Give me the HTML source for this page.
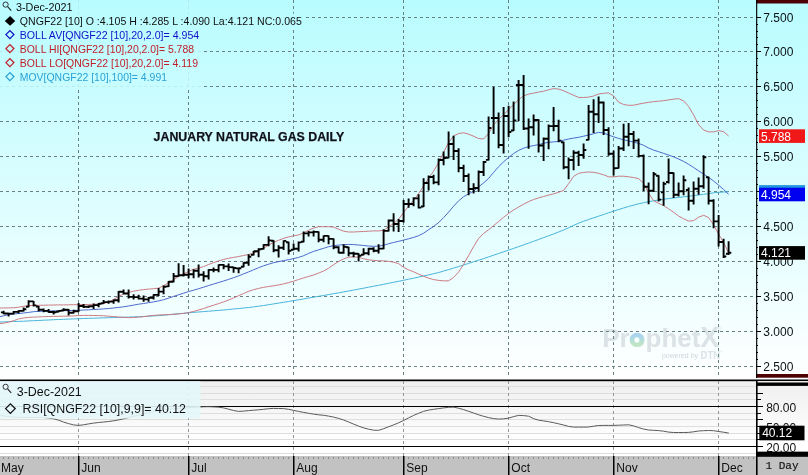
<!DOCTYPE html><html><head><meta charset="utf-8"><title>January Natural Gas Daily</title>
<style>html,body{margin:0;padding:0;background:#fff;}svg{display:block;}text{font-family:"Liberation Sans",sans-serif;}</style></head><body>
<svg width="808" height="475" viewBox="0 0 808 475">
<defs>
<linearGradient id="g1" gradientUnits="userSpaceOnUse" x1="0" y1="0" x2="0" y2="379"><stop offset="0" stop-color="#b8fcff"/><stop offset="1" stop-color="#ffffff"/></linearGradient>
<linearGradient id="g2" x1="0" y1="0" x2="0" y2="1"><stop offset="0" stop-color="#efefef"/><stop offset="0.85" stop-color="#ffffff"/></linearGradient>
<linearGradient id="go" x1="0" y1="0" x2="0" y2="1"><stop offset="0.1" stop-color="#a9d4ee"/><stop offset="0.9" stop-color="#bfe5c6"/></linearGradient>
<clipPath id="cm"><rect x="0" y="0" width="756" height="379"/></clipPath>
</defs>
<rect x="0" y="0" width="808" height="379" fill="url(#g1)"/>
<rect x="0" y="381" width="808" height="75" fill="url(#g2)"/>
<g fill="#dbe3e6" font-weight="bold">
<text x="602.2" y="346.9" font-size="26" textLength="98.3" lengthAdjust="spacingAndGlyphs">Prophet</text>
<text x="700.2" y="346.9" font-size="29" textLength="19" lengthAdjust="spacingAndGlyphs">X</text>
<text x="718" y="331" font-size="5" font-weight="normal">®</text>
<text x="700.6" y="358.8" font-size="10.6" textLength="19.6" lengthAdjust="spacingAndGlyphs">DTN</text>
<text x="719.5" y="353" font-size="4" font-weight="normal">®</text>
</g>
<text x="662" y="358.3" font-size="7.5" fill="#cfd6d9" textLength="36" lengthAdjust="spacingAndGlyphs">powered by</text>
<circle cx="636.8" cy="339.9" r="4.9" fill="none" stroke="url(#go)" stroke-width="4.6"/>
<g stroke="#688284" stroke-width="1" stroke-dasharray="3 3" fill="none" shape-rendering="crispEdges">
<line x1="0" y1="17.5" x2="756" y2="17.5"/>
<line x1="0" y1="51.5" x2="756" y2="51.5"/>
<line x1="0" y1="86.5" x2="756" y2="86.5"/>
<line x1="0" y1="121.5" x2="756" y2="121.5"/>
<line x1="0" y1="156.5" x2="756" y2="156.5"/>
<line x1="0" y1="191.5" x2="756" y2="191.5"/>
<line x1="0" y1="226.5" x2="756" y2="226.5"/>
<line x1="0" y1="261.5" x2="756" y2="261.5"/>
<line x1="0" y1="296.5" x2="756" y2="296.5"/>
<line x1="0" y1="331.5" x2="756" y2="331.5"/>
<line x1="0" y1="366.5" x2="756" y2="366.5"/>
<line x1="78.5" y1="0" x2="78.5" y2="379"/>
<line x1="188.5" y1="0" x2="188.5" y2="379"/>
<line x1="293.5" y1="0" x2="293.5" y2="379"/>
<line x1="403.5" y1="0" x2="403.5" y2="379"/>
<line x1="508.5" y1="0" x2="508.5" y2="379"/>
<line x1="613.5" y1="0" x2="613.5" y2="379"/>
<line x1="718.5" y1="0" x2="718.5" y2="379"/>
</g>
<g fill="none" stroke-linejoin="round" clip-path="url(#cm)">
<path d="M0.0,322.0 L3.6,321.9 L8.6,321.7 L13.6,321.5 L18.6,321.4 L23.6,321.2 L28.6,320.9 L33.6,320.7 L38.6,320.5 L43.6,320.2 L48.6,320.0 L53.6,319.7 L58.6,319.5 L63.6,319.3 L68.6,319.1 L73.6,318.9 L78.6,318.7 L83.6,318.5 L88.6,318.3 L93.6,318.2 L98.6,318.0 L103.6,317.9 L108.6,317.7 L113.6,317.6 L118.6,317.4 L123.6,317.2 L128.6,317.1 L133.6,316.9 L138.6,316.7 L143.6,316.5 L148.6,316.2 L153.6,315.9 L158.6,315.6 L163.6,315.2 L168.6,314.7 L173.6,314.2 L178.6,313.7 L183.6,313.3 L188.6,312.8 L193.6,312.4 L198.6,312.0 L203.6,311.6 L208.6,311.2 L213.6,310.8 L218.6,310.4 L223.6,310.0 L228.6,309.5 L233.6,309.0 L238.6,308.5 L243.6,308.0 L248.6,307.5 L253.6,306.9 L258.6,306.2 L263.6,305.5 L268.6,304.7 L273.6,303.9 L278.6,303.1 L283.6,302.3 L288.6,301.5 L293.6,300.6 L298.6,299.8 L303.6,298.9 L308.6,298.0 L313.6,297.2 L318.6,296.3 L323.6,295.5 L328.6,294.6 L333.6,293.7 L338.6,292.9 L343.6,291.9 L348.6,291.0 L353.6,290.1 L358.6,289.1 L363.6,288.2 L368.6,287.2 L373.6,286.2 L378.6,285.3 L383.6,284.3 L388.6,283.3 L393.6,282.3 L398.6,281.3 L403.6,280.3 L408.6,279.2 L413.6,278.2 L418.6,277.1 L423.6,276.0 L428.6,274.9 L433.6,273.7 L438.6,272.5 L443.6,271.1 L448.6,269.6 L453.6,268.1 L458.6,266.6 L463.6,265.0 L468.6,263.4 L473.6,261.8 L478.6,260.2 L483.6,258.6 L488.6,256.9 L493.6,255.2 L498.6,253.5 L503.6,251.8 L508.6,250.1 L513.6,248.4 L518.6,246.6 L523.6,244.9 L528.6,243.1 L533.6,241.3 L538.6,239.5 L543.6,237.6 L548.6,235.8 L553.6,233.9 L558.6,232.0 L563.6,230.0 L568.6,227.8 L573.6,225.4 L578.6,223.2 L583.6,221.2 L588.6,219.5 L593.6,217.8 L598.6,216.2 L603.6,214.5 L608.6,212.8 L613.6,211.1 L618.6,209.5 L623.6,208.0 L628.6,206.5 L633.6,205.1 L638.6,203.8 L643.6,202.7 L648.6,201.7 L653.6,200.8 L658.6,200.0 L663.6,199.2 L668.6,198.6 L673.6,198.0 L678.6,197.4 L683.6,196.8 L688.6,196.2 L693.6,195.6 L698.6,195.0 L703.6,194.3 L708.6,193.6 L713.6,192.8 L718.6,192.3 L723.6,192.0 L728.6,191.8" stroke="#48b4dc" stroke-width="1"/>
<path d="M0.0,308.0 L3.6,308.0 L8.6,307.9 L13.6,307.8 L18.6,307.2 L23.6,306.3 L28.6,305.6 L33.6,305.4 L38.6,305.3 L43.6,305.2 L48.6,305.1 L53.6,305.0 L58.6,304.9 L63.6,304.9 L68.6,304.8 L73.6,304.7 L78.6,304.7 L83.6,304.6 L88.6,304.5 L93.6,304.3 L98.6,304.1 L103.6,303.5 L108.6,302.0 L113.6,299.5 L118.6,296.4 L123.6,293.9 L128.6,292.4 L133.6,291.2 L138.6,290.3 L143.6,289.6 L148.6,289.1 L153.6,288.7 L158.6,288.1 L163.6,285.7 L168.6,282.7 L173.6,279.7 L178.6,276.6 L183.6,273.8 L188.6,271.4 L193.6,269.2 L198.6,268.1 L203.6,266.6 L208.6,264.5 L213.6,262.6 L218.6,260.9 L223.6,259.4 L228.6,258.3 L233.6,257.4 L238.6,256.5 L243.6,255.5 L248.6,254.5 L253.6,252.9 L258.6,250.7 L263.6,248.1 L268.6,245.2 L273.6,242.4 L278.6,240.3 L283.6,238.4 L288.6,236.9 L293.6,235.9 L298.6,234.9 L303.6,232.8 L308.6,230.2 L313.6,228.0 L318.6,226.7 L323.6,226.7 L328.6,226.7 L333.6,227.1 L338.6,229.2 L343.6,231.2 L348.6,232.0 L353.6,232.0 L358.6,231.7 L363.6,231.5 L368.6,231.2 L373.6,230.9 L378.6,230.9 L383.6,230.4 L388.6,226.7 L393.6,223.5 L398.6,219.1 L403.6,212.6 L408.6,206.1 L413.6,200.3 L418.6,193.6 L423.6,186.0 L428.6,178.4 L433.6,171.1 L438.6,162.6 L443.6,152.4 L448.6,142.5 L453.6,135.9 L458.6,133.5 L463.6,132.8 L468.6,134.2 L473.6,136.2 L478.6,138.5 L483.6,139.0 L488.6,133.4 L493.6,125.0 L498.6,119.3 L503.6,114.7 L508.6,109.6 L513.6,104.6 L518.6,99.8 L523.6,95.8 L528.6,94.2 L533.6,93.1 L538.6,92.1 L543.6,91.2 L548.6,89.8 L553.6,88.6 L558.6,89.1 L563.6,90.7 L568.6,93.0 L573.6,95.3 L578.6,97.4 L583.6,97.5 L588.6,97.1 L593.6,96.0 L598.6,94.0 L603.6,93.3 L608.6,92.9 L613.6,95.9 L618.6,102.2 L623.6,104.5 L628.6,105.3 L633.6,105.2 L638.6,104.1 L643.6,103.2 L648.6,102.3 L653.6,101.7 L658.6,101.2 L663.6,100.7 L668.6,99.9 L673.6,99.2 L678.6,98.6 L683.6,100.9 L688.6,106.5 L693.6,114.9 L698.6,124.7 L703.6,130.0 L708.6,131.9 L713.6,131.9 L718.6,130.6 L723.6,131.7 L728.6,136.0" stroke="#c9747a" stroke-width="0.95"/>
<path d="M0.0,323.7 L3.6,323.2 L8.6,322.1 L13.6,320.7 L18.6,318.9 L23.6,318.0 L28.6,317.4 L33.6,317.1 L38.6,316.9 L43.6,316.7 L48.6,316.5 L53.6,316.4 L58.6,316.3 L63.6,316.2 L68.6,316.1 L73.6,315.9 L78.6,315.6 L83.6,315.4 L88.6,315.4 L93.6,315.5 L98.6,315.6 L103.6,315.8 L108.6,316.2 L113.6,316.6 L118.6,317.0 L123.6,317.4 L128.6,317.6 L133.6,317.5 L138.6,317.1 L143.6,316.7 L148.6,316.0 L153.6,315.4 L158.6,315.0 L163.6,314.8 L168.6,314.6 L173.6,314.3 L178.6,313.9 L183.6,313.4 L188.6,312.6 L193.6,311.4 L198.6,310.0 L203.6,308.5 L208.6,306.8 L213.6,305.2 L218.6,303.6 L223.6,301.9 L228.6,300.0 L233.6,297.9 L238.6,295.7 L243.6,293.5 L248.6,291.3 L253.6,289.7 L258.6,288.4 L263.6,287.3 L268.6,286.5 L273.6,285.8 L278.6,284.9 L283.6,283.9 L288.6,282.6 L293.6,281.2 L298.6,279.5 L303.6,277.9 L308.6,276.5 L313.6,275.0 L318.6,273.1 L323.6,271.0 L328.6,268.3 L333.6,264.6 L338.6,261.5 L343.6,258.9 L348.6,257.2 L353.6,256.8 L358.6,257.3 L363.6,258.8 L368.6,259.8 L373.6,260.4 L378.6,260.8 L383.6,260.9 L388.6,261.3 L393.6,262.2 L398.6,263.6 L403.6,267.4 L408.6,269.8 L413.6,271.8 L418.6,274.1 L423.6,276.3 L428.6,278.1 L433.6,279.6 L438.6,280.4 L443.6,280.8 L448.6,280.9 L453.6,277.4 L458.6,272.1 L463.6,264.5 L468.6,255.5 L473.6,246.6 L478.6,238.4 L483.6,233.5 L488.6,229.7 L493.6,225.6 L498.6,221.5 L503.6,217.3 L508.6,213.4 L513.6,210.0 L518.6,207.0 L523.6,204.2 L528.6,201.6 L533.6,199.5 L538.6,197.9 L543.6,196.5 L548.6,195.1 L553.6,193.8 L558.6,192.3 L563.6,190.4 L568.6,183.7 L573.6,176.4 L578.6,173.3 L583.6,172.4 L588.6,172.0 L593.6,172.3 L598.6,173.3 L603.6,174.8 L608.6,176.8 L613.6,176.9 L618.6,176.2 L623.6,176.2 L628.6,176.8 L633.6,177.5 L638.6,178.6 L643.6,183.2 L648.6,193.1 L653.6,200.7 L658.6,203.2 L663.6,205.6 L668.6,208.8 L673.6,212.3 L678.6,216.0 L683.6,218.8 L688.6,221.1 L693.6,220.6 L698.6,217.2 L703.6,215.3 L708.6,217.5 L713.6,224.9 L718.6,234.1 L723.6,242.4 L728.6,252.9" stroke="#c9747a" stroke-width="0.95"/>
<path d="M0.0,316.7 L3.6,315.8 L8.6,314.7 L13.6,314.0 L18.6,313.5 L23.6,313.0 L28.6,312.4 L33.6,311.7 L38.6,311.3 L43.6,311.2 L48.6,311.0 L53.6,310.9 L58.6,310.8 L63.6,310.7 L68.6,310.6 L73.6,310.4 L78.6,310.3 L83.6,310.0 L88.6,309.8 L93.6,309.5 L98.6,309.3 L103.6,308.9 L108.6,308.5 L113.6,308.0 L118.6,307.4 L123.6,306.8 L128.6,306.0 L133.6,305.1 L138.6,304.2 L143.6,303.5 L148.6,302.7 L153.6,301.9 L158.6,300.9 L163.6,299.7 L168.6,298.2 L173.6,296.4 L178.6,294.8 L183.6,293.2 L188.6,291.6 L193.6,290.2 L198.6,288.7 L203.6,287.2 L208.6,285.6 L213.6,284.0 L218.6,282.5 L223.6,281.0 L228.6,279.4 L233.6,277.7 L238.6,275.9 L243.6,273.9 L248.6,271.9 L253.6,269.8 L258.6,267.7 L263.6,265.8 L268.6,264.2 L273.6,262.7 L278.6,261.6 L283.6,260.6 L288.6,259.7 L293.6,258.6 L298.6,257.4 L303.6,255.7 L308.6,253.4 L313.6,251.4 L318.6,249.8 L323.6,248.3 L328.6,246.7 L333.6,245.7 L338.6,245.1 L343.6,244.7 L348.6,244.4 L353.6,244.6 L358.6,245.0 L363.6,245.5 L368.6,246.0 L373.6,246.3 L378.6,246.2 L383.6,245.3 L388.6,243.7 L393.6,242.5 L398.6,241.3 L403.6,240.1 L408.6,238.8 L413.6,237.4 L418.6,235.7 L423.6,233.2 L428.6,229.7 L433.6,226.5 L438.6,222.6 L443.6,217.6 L448.6,212.1 L453.6,206.2 L458.6,200.9 L463.6,196.7 L468.6,193.9 L473.6,191.1 L478.6,186.9 L483.6,182.9 L488.6,178.4 L493.6,172.4 L498.6,166.7 L503.6,161.8 L508.6,157.5 L513.6,153.5 L518.6,150.4 L523.6,148.2 L528.6,146.6 L533.6,145.6 L538.6,144.6 L543.6,143.3 L548.6,142.3 L553.6,141.9 L558.6,141.4 L563.6,140.2 L568.6,139.0 L573.6,138.1 L578.6,137.3 L583.6,136.2 L588.6,135.0 L593.6,133.7 L598.6,132.4 L603.6,132.9 L608.6,135.0 L613.6,136.8 L618.6,138.4 L623.6,139.8 L628.6,140.9 L633.6,142.1 L638.6,143.4 L643.6,145.3 L648.6,148.0 L653.6,150.1 L658.6,151.7 L663.6,153.4 L668.6,155.0 L673.6,156.9 L678.6,159.0 L683.6,161.4 L688.6,164.3 L693.6,167.5 L698.6,170.8 L703.6,174.1 L708.6,177.4 L713.6,181.0 L718.6,185.1 L723.6,189.5 L728.6,194.4" stroke="#4560c8" stroke-width="0.95"/>
</g>
<path d="M3.6,310.7V314.2M0.9,312.4H3.6M3.6,313.5H6.3M8.6,312.9V316.5M5.9,313.5H8.6M8.6,313.6H11.3M13.6,311.0V314.4M10.9,313.6H13.6M13.6,311.9H16.3M18.6,310.2V313.6M15.9,311.9H18.6M18.6,310.9H21.3M23.6,307.6V311.4M20.9,310.9H23.6M23.6,309.3H26.3M28.6,300.3V307.2M25.9,306.7H28.6M28.6,301.4H31.3M33.6,300.9V306.6M30.9,301.4H33.6M33.6,305.4H36.3M38.6,306.0V311.4M35.9,306.5H38.6M38.6,309.8H41.3M43.6,308.5V312.3M40.9,309.8H43.6M43.6,310.9H46.3M48.6,309.1V312.7M45.9,310.9H48.6M48.6,312.0H51.3M53.6,310.7V314.4M50.9,312.0H53.6M53.6,312.3H56.3M58.6,310.2V312.3M55.9,311.8H58.6M58.6,310.9H61.3M63.6,308.3V311.0M60.9,310.5H63.6M63.6,309.8H66.3M68.6,309.1V315.5M65.9,309.8H68.6M68.6,312.8H71.3M73.6,309.8V313.6M70.9,312.8H73.6M73.6,311.3H76.3M78.6,303.1V311.7M75.9,311.2H78.6M78.6,306.0H81.3M83.6,304.1V307.9M80.9,306.0H83.6M83.6,306.8H86.3M88.6,305.4V308.1M85.9,306.8H88.6M88.6,306.3H91.3M93.6,303.5V309.1M90.9,306.3H93.6M93.6,305.1H96.3M98.6,303.1V307.2M95.9,305.1H98.6M98.6,303.8H101.3M103.6,299.9V303.7M100.9,303.2H103.6M103.6,302.1H106.3M108.6,300.5V303.7M105.9,302.1H108.6M108.6,301.6H111.3M113.6,299.5V303.7M110.9,301.6H113.6M113.6,300.2H116.3M118.6,291.0V302.4M115.9,300.2H118.6M118.6,291.8H121.3M123.6,289.4V294.2M120.9,291.8H123.6M123.6,293.5H126.3M128.6,289.4V298.6M125.9,293.5H128.6M128.6,296.9H131.3M133.6,294.2V299.5M130.9,296.9H133.6M133.6,297.1H136.3M138.6,294.8V299.5M135.9,297.1H138.6M138.6,298.6H141.3M143.6,295.5V301.8M140.9,298.6H143.6M143.6,299.4H146.3M148.6,297.0V301.8M145.9,299.4H148.6M148.6,297.7H151.3M153.6,294.2V299.5M150.9,297.7H153.6M153.6,294.9H156.3M158.6,288.1V296.1M155.9,294.9H158.6M158.6,291.6H161.3M163.6,285.4V294.2M160.9,291.6H163.6M163.6,286.7H166.3M168.6,280.9V286.9M165.9,286.4H168.6M168.6,281.7H171.3M173.6,273.0V282.2M170.9,281.7H173.6M173.6,276.3H176.3M178.6,263.3V276.6M175.9,276.1H178.6M178.6,275.3H181.3M183.6,265.0V276.4M180.9,275.3H183.6M183.6,274.8H186.3M188.6,268.4V278.3M185.9,274.8H188.6M188.6,274.3H191.3M193.6,269.2V278.3M190.9,274.3H193.6M193.6,270.8H196.3M198.6,264.4V277.5M195.9,270.8H198.6M198.6,274.8H201.3M203.6,271.2V281.5M200.9,274.8H203.6M203.6,276.3H206.3M208.6,269.3V279.5M205.9,276.3H208.6M208.6,269.9H211.3M213.6,267.4V272.3M210.9,269.9H213.6M213.6,269.9H216.3M218.6,264.6V272.3M215.9,269.9H218.6M218.6,264.9H221.3M223.6,264.1V269.3M220.9,264.9H223.6M223.6,266.4H226.3M228.6,263.5V271.1M225.9,266.4H228.6M228.6,267.1H231.3M233.6,266.7V272.7M230.9,267.2H233.6M233.6,268.0H236.3M238.6,267.9V273.2M235.9,268.4H238.6M238.6,268.2H241.3M243.6,262.2V267.3M240.9,266.8H243.6M243.6,262.7H246.3M248.6,254.3V265.8M245.9,262.7H248.6M248.6,256.7H251.3M253.6,251.0V255.4M250.9,254.9H253.6M253.6,251.3H256.3M258.6,248.3V257.3M255.9,251.3H258.6M258.6,249.3H261.3M263.6,244.2V249.4M260.9,248.9H263.6M263.6,244.9H266.3M268.6,236.3V246.3M265.9,244.9H268.6M268.6,240.4H271.3M273.6,240.3V252.2M270.9,240.8H273.6M273.6,250.3H276.3M278.6,245.3V257.4M275.9,250.3H278.6M278.6,247.8H281.3M283.6,240.5V250.0M280.9,247.8H283.6M283.6,240.9H286.3M288.6,241.7V254.5M285.9,242.2H288.6M288.6,250.8H291.3M293.6,243.6V250.3M290.9,249.8H293.6M293.6,248.8H296.3M298.6,241.4V251.4M295.9,248.8H298.6M298.6,242.4H301.3M303.6,231.4V242.3M300.9,241.8H303.6M303.6,233.4H306.3M308.6,230.9V236.4M305.9,233.4H308.6M308.6,232.4H311.3M313.6,230.4V236.4M310.9,232.4H313.6M313.6,231.9H316.3M318.6,231.4V242.3M315.9,231.9H318.6M318.6,239.8H321.3M323.6,235.4V242.3M320.9,239.8H323.6M323.6,235.9H326.3M328.6,235.4V244.3M325.9,235.9H328.6M328.6,238.9H331.3M333.6,238.4V249.2M330.9,238.9H333.6M333.6,247.3H336.3M338.6,246.3V253.2M335.9,247.3H338.6M338.6,252.7H341.3M343.6,244.3V253.7M340.9,252.7H343.6M343.6,246.8H346.3M348.6,246.8V256.2M345.9,247.3H348.6M348.6,253.2H351.3M353.6,251.7V257.2M350.9,253.2H353.6M353.6,253.7H356.3M358.6,253.2V261.6M355.9,253.7H358.6M358.6,255.7H361.3M363.6,248.3V255.2M360.9,254.7H363.6M363.6,253.2H366.3M368.6,247.8V255.2M365.9,253.2H368.6M368.6,248.8H371.3M373.6,247.3V252.2M370.9,248.8H373.6M373.6,250.7H376.3M378.6,244.3V253.4M375.9,250.7H378.6M378.6,248.6H381.3M383.6,229.2V249.2M380.9,248.6H383.6M383.6,230.9H386.3M388.6,219.5V231.5M385.9,230.9H388.6M388.6,220.5H391.3M393.6,213.2V231.5M390.9,220.5H393.6M393.6,224.0H396.3M398.6,218.9V232.1M395.9,224.0H398.6M398.6,221.0H401.3M403.6,200.0V222.5M400.9,221.0H403.6M403.6,204.0H406.3M408.6,198.5V207.8M405.9,204.0H408.6M408.6,204.0H411.3M413.6,197.3V206.3M410.9,204.0H413.6M413.6,198.4H416.3M418.6,194.3V208.4M415.9,198.4H418.6M418.6,207.6H421.3M423.6,178.3V207.0M420.9,206.5H423.6M423.6,183.0H426.3M428.6,175.4V190.5M425.9,183.0H428.6M428.6,177.0H431.3M433.6,174.7V184.2M430.9,177.0H433.6M433.6,182.4H436.3M438.6,158.5V185.3M435.9,182.4H438.6M438.6,160.0H441.3M443.6,151.6V165.3M440.9,160.0H443.6M443.6,158.0H446.3M448.6,131.5V158.2M445.9,157.7H448.6M448.6,144.0H451.3M453.6,135.8V160.0M450.9,144.0H453.6M453.6,151.0H456.3M458.6,148.2V172.3M455.9,151.0H458.6M458.6,168.0H461.3M463.6,164.7V182.1M460.9,168.0H463.6M463.6,176.0H466.3M468.6,173.5V195.3M465.9,176.0H468.6M468.6,189.0H471.3M473.6,183.2V193.4M470.9,189.0H473.6M473.6,188.0H476.3M478.6,170.5V192.1M475.9,188.0H478.6M478.6,172.0H481.3M483.6,161.0V176.0M480.9,172.0H483.6M483.6,162.0H486.3M488.6,116.4V160.4M485.9,159.9H488.6M488.6,128.0H491.3M493.6,86.8V134.0M490.9,118.0H493.6M493.6,118.0H496.3M498.6,112.4V148.3M495.9,118.0H498.6M498.6,145.0H501.3M503.6,107.0V153.5M500.9,145.0H503.6M503.6,116.0H506.3M508.6,105.8V137.2M505.9,116.0H508.6M508.6,132.0H511.3M513.6,101.4V131.0M510.9,130.5H513.6M513.6,120.5H516.3M518.6,80.0V121.0M515.9,85.0H518.6M518.6,85.0H521.3M523.6,75.1V130.0M520.9,85.0H523.6M523.6,128.5H526.3M528.6,118.4V148.8M525.9,128.5H528.6M528.6,127.3H531.3M533.6,114.5V135.5M530.9,127.3H533.6M533.6,120.0H536.3M538.6,119.3V152.4M535.9,120.0H538.6M538.6,145.5H541.3M543.6,137.4V161.0M540.9,145.5H543.6M543.6,138.7H546.3M548.6,124.5V149.2M545.9,138.7H548.6M548.6,126.1H551.3M553.6,107.1V131.3M550.9,126.1H553.6M553.6,126.0H556.3M558.6,119.7V142.3M555.9,126.0H558.6M558.6,140.6H561.3M563.6,141.8V169.2M560.9,142.3H563.6M563.6,167.3H566.3M568.6,157.6V179.3M565.9,167.3H568.6M568.6,160.0H571.3M573.6,150.3V170.3M570.9,160.0H573.6M573.6,152.7H576.3M578.6,150.7V166.0M575.9,152.7H578.6M578.6,155.0H581.3M583.6,143.5V158.7M580.9,155.0H583.6M583.6,150.0H586.3M588.6,105.0V140.2M585.9,139.9H588.6M588.6,111.7H591.3M593.6,99.3V133.0M590.9,111.7H593.6M593.6,114.3H596.3M598.6,96.6V122.9M595.9,114.3H598.6M598.6,102.5H601.3M603.6,101.4V135.0M600.9,102.5H603.6M603.6,130.0H606.3M608.6,127.2V155.7M605.9,130.0H608.6M608.6,153.8H611.3M613.6,150.6V175.6M610.9,153.8H613.6M613.6,168.3H616.3M618.6,145.9V168.6M615.9,168.1H618.6M618.6,148.5H621.3M623.6,123.7V151.0M620.9,148.5H623.6M623.6,136.7H626.3M628.6,123.0V146.2M625.9,136.7H628.6M628.6,134.0H631.3M633.6,131.0V149.0M630.9,134.0H633.6M633.6,140.6H636.3M638.6,138.4V157.4M635.9,140.6H638.6M638.6,155.9H641.3M643.6,154.6V191.0M640.9,155.9H643.6M643.6,186.7H646.3M648.6,182.6V204.3M645.9,186.7H648.6M648.6,190.7H651.3M653.6,172.1V192.1M650.9,190.7H653.6M653.6,174.2H656.3M658.6,175.3V201.6M655.9,175.8H658.6M658.6,199.6H661.3M663.6,181.8V205.8M660.9,192.4H663.6M663.6,183.9H666.3M668.6,158.6V183.5M665.9,182.0H668.6M668.6,173.0H671.3M673.6,172.5V198.0M670.9,173.0H673.6M673.6,194.8H676.3M678.6,182.4V196.4M675.9,194.8H678.6M678.6,191.2H681.3M683.6,175.5V195.3M680.9,191.2H683.6M683.6,180.3H686.3M688.6,187.4V210.5M685.9,190.0H688.6M688.6,200.8H691.3M693.6,181.6V204.5M690.9,200.8H693.6M693.6,188.7H696.3M698.6,177.4V194.7M695.9,188.7H698.6M698.6,186.3H701.3M703.6,155.3V188.7M700.9,186.3H703.6M703.6,157.3H706.3M708.6,176.8V204.5M705.9,177.3H708.6M708.6,200.8H711.3M713.6,199.2V228.2M710.9,200.8H713.6M713.6,221.4H716.3M718.6,215.0V246.6M715.9,221.4H718.6M718.6,242.0H721.3M723.6,238.7V257.9M720.9,242.0H723.6M723.6,256.5H726.3M728.6,241.3V255.0M725.9,253.8H728.6M728.6,252.7H731.3" stroke="#000" stroke-width="1.9" fill="none" clip-path="url(#cm)"/>
<text x="153.6" y="140.8" font-size="13.4" font-weight="bold" fill="#101018" stroke="#101018" stroke-width="0.25" textLength="190.6" lengthAdjust="spacingAndGlyphs">JANUARY NATURAL GAS DAILY</text>
<rect x="0" y="0" width="202" height="87.5" fill="url(#g1)" opacity="0.86"/>
<rect x="0" y="13.6" width="303.5" height="14" fill="url(#g1)" opacity="0.92"/>
<text x="16" y="10.8" font-size="11" fill="#101010" textLength="56.5" lengthAdjust="spacingAndGlyphs">3-Dec-2021</text>
<g fill="none" stroke="#202020" stroke-width="0.9"><circle cx="5.6" cy="4.6" r="2.6"/><path d="M7.6,6.7L11.2,10.6" stroke-width="1.15"/></g>
<text x="19.8" y="24.6" font-size="11" fill="#101010" textLength="282" lengthAdjust="spacingAndGlyphs">QNGF22 [10] O :4.105 H :4.285 L :4.090 La:4.121 NC:0.065</text>
<path d="M4.800000000000001,21.0L10.1,16.0L15.2,21.0L10.1,25.8Z" fill="#000"/>
<text x="19.8" y="38.6" font-size="11" fill="#1010c8" textLength="179.4" lengthAdjust="spacingAndGlyphs">BOLL AV[QNGF22 [10],20,2.0]= 4.954</text>
<path d="M5.9,34.6L9.9,30.6L13.9,34.6L9.9,38.6Z" fill="none" stroke="#1010c8" stroke-width="1.3"/>
<text x="19.8" y="52.6" font-size="11" fill="#c02028" textLength="174.2" lengthAdjust="spacingAndGlyphs">BOLL HI[QNGF22 [10],20,2.0]= 5.788</text>
<path d="M5.9,48.6L9.9,44.6L13.9,48.6L9.9,52.6Z" fill="none" stroke="#c02028" stroke-width="1.3"/>
<text x="19.8" y="66.6" font-size="11" fill="#c02028" textLength="178.2" lengthAdjust="spacingAndGlyphs">BOLL LO[QNGF22 [10],20,2.0]= 4.119</text>
<path d="M5.9,62.6L9.9,58.6L13.9,62.6L9.9,66.6Z" fill="none" stroke="#c02028" stroke-width="1.3"/>
<text x="19.8" y="80.6" font-size="11" fill="#2aa2d4" textLength="147.2" lengthAdjust="spacingAndGlyphs">MOV[QNGF22 [10],100]= 4.991</text>
<path d="M5.9,76.6L9.9,72.6L13.9,76.6L9.9,80.6Z" fill="none" stroke="#2aa2d4" stroke-width="1.3"/>
<rect x="756" y="0" width="52" height="3.5" fill="#4d0004"/>
<rect x="756" y="374" width="52" height="3.7" fill="#4d0004"/>
<rect x="756.1" y="0" width="1.15" height="379" fill="#000"/>
<path d="M756,366.5H758.2M756,366.5H760.8M756,359.5H758.2M756,352.5H758.2M756,345.5H758.2M756,338.5H758.2M756,331.5H760.8M756,324.5H758.2M756,317.5H758.2M756,310.5H758.2M756,303.5H758.2M756,296.5H760.8M756,289.5H758.2M756,282.5H758.2M756,275.5H758.2M756,268.5H758.2M756,261.5H760.8M756,254.5H758.2M756,247.5H758.2M756,240.5H758.2M756,233.5H758.2M756,226.5H760.8M756,219.5H758.2M756,212.5H758.2M756,205.5H758.2M756,198.5H758.2M756,191.5H760.8M756,184.5H758.2M756,177.5H758.2M756,170.5H758.2M756,163.5H758.2M756,156.5H760.8M756,149.5H758.2M756,142.5H758.2M756,135.5H758.2M756,128.5H758.2M756,121.5H760.8M756,114.5H758.2M756,107.5H758.2M756,100.5H758.2M756,93.5H758.2M756,86.5H760.8M756,79.5H758.2M756,72.5H758.2M756,65.5H758.2M756,58.5H758.2M756,51.5H760.8M756,44.5H758.2M756,37.5H758.2M756,31.5H758.2M756,24.5H758.2M756,17.5H760.8M756,17.5H758.2M756,17.5H758.2" stroke="#000" stroke-width="1" fill="none" shape-rendering="crispEdges"/>
<text x="763.3" y="21.8" font-size="12" fill="#0a1014">7.500</text>
<text x="763.3" y="55.8" font-size="12" fill="#0a1014">7.000</text>
<text x="763.3" y="90.6" font-size="12" fill="#0a1014">6.500</text>
<text x="763.3" y="125.6" font-size="12" fill="#0a1014">6.000</text>
<text x="763.3" y="160.8" font-size="12" fill="#0a1014">5.500</text>
<text x="763.3" y="195.7" font-size="12" fill="#0a1014">5.000</text>
<text x="763.3" y="230.8" font-size="12" fill="#0a1014">4.500</text>
<text x="763.3" y="265.8" font-size="12" fill="#0a1014">4.000</text>
<text x="763.3" y="300.7" font-size="12" fill="#0a1014">3.500</text>
<text x="763.3" y="335.6" font-size="12" fill="#0a1014">3.000</text>
<text x="763.3" y="370.7" font-size="12" fill="#0a1014">2.500</text>
<rect x="759" y="129.3" width="46" height="13.6" fill="#f01818"/>
<text x="761" y="140.5" font-size="12" fill="#fff">5.788</text>
<rect x="759" y="185.1" width="46" height="13.6" fill="#2098e0"/>
<rect x="759" y="187.7" width="46" height="13.6" fill="#0000f0"/>
<text x="761" y="198.9" font-size="12" fill="#fff">4.954</text>
<rect x="759" y="246.1" width="46" height="13.6" fill="#000000"/>
<text x="761" y="257.3" font-size="12" fill="#fff">4.121</text>
<rect x="0" y="378" width="808" height="1" fill="#fff"/>
<rect x="0" y="379" width="808" height="1" fill="#808080"/>
<rect x="0" y="380" width="808" height="1.2" fill="#000"/>
<g stroke="#dedede" stroke-width="1" shape-rendering="crispEdges">
<line x1="0" y1="453.5" x2="756" y2="453.5"/>
<line x1="0" y1="439.5" x2="756" y2="439.5"/>
<line x1="0" y1="433.5" x2="756" y2="433.5"/>
<line x1="0" y1="426.5" x2="756" y2="426.5"/>
<line x1="0" y1="419.5" x2="756" y2="419.5"/>
<line x1="0" y1="413.5" x2="756" y2="413.5"/>
<line x1="0" y1="399.5" x2="756" y2="399.5"/>
<line x1="0" y1="393.5" x2="756" y2="393.5"/>
<line x1="0" y1="386.5" x2="756" y2="386.5"/>
</g>
<g stroke="#8e989a" stroke-width="1" stroke-dasharray="3 3" shape-rendering="crispEdges">
<line x1="78.5" y1="381" x2="78.5" y2="456"/>
<line x1="188.5" y1="381" x2="188.5" y2="456"/>
<line x1="293.5" y1="381" x2="293.5" y2="456"/>
<line x1="403.5" y1="381" x2="403.5" y2="456"/>
<line x1="508.5" y1="381" x2="508.5" y2="456"/>
<line x1="613.5" y1="381" x2="613.5" y2="456"/>
<line x1="718.5" y1="381" x2="718.5" y2="456"/>
</g>
<g stroke="#000" stroke-width="1.3" shape-rendering="crispEdges"><line x1="0" y1="406.5" x2="756" y2="406.5"/><line x1="0" y1="446.5" x2="756" y2="446.5"/></g>
<path d="M0.0,415.4 L3.6,415.9 L8.6,416.6 L13.6,417.1 L18.6,417.4 L23.6,417.4 L28.6,417.4 L33.6,417.4 L38.6,417.4 L43.6,417.5 L48.6,418.1 L53.6,418.8 L58.6,420.2 L63.6,422.1 L68.6,423.6 L73.6,424.9 L78.6,425.4 L83.6,424.8 L88.6,423.9 L93.6,423.1 L98.6,422.5 L103.6,422.0 L108.6,421.5 L113.6,420.8 L118.6,419.9 L123.6,418.8 L128.6,417.6 L133.6,416.4 L138.6,415.1 L143.6,413.8 L148.6,412.5 L153.6,411.4 L158.6,410.6 L163.6,409.8 L168.6,409.2 L173.6,408.7 L178.6,408.3 L183.6,408.0 L188.6,407.7 L193.6,407.4 L198.6,407.1 L203.6,406.8 L208.6,406.7 L213.6,406.9 L218.6,407.2 L223.6,407.9 L228.6,409.2 L233.6,410.5 L238.6,411.4 L243.6,411.1 L248.6,410.6 L253.6,410.2 L258.6,409.8 L263.6,409.3 L268.6,408.7 L273.6,408.4 L278.6,408.5 L283.6,408.6 L288.6,409.3 L293.6,410.4 L298.6,411.4 L303.6,412.4 L308.6,413.3 L313.6,414.1 L318.6,414.8 L323.6,415.3 L328.6,416.1 L333.6,417.1 L338.6,418.4 L343.6,420.0 L348.6,422.0 L353.6,424.1 L358.6,426.1 L363.6,427.9 L368.6,429.2 L373.6,430.2 L378.6,430.3 L383.6,428.7 L388.6,426.8 L393.6,424.9 L398.6,422.8 L403.6,420.5 L408.6,417.9 L413.6,415.4 L418.6,413.3 L423.6,411.3 L428.6,410.1 L433.6,409.3 L438.6,408.6 L443.6,407.9 L448.6,407.3 L453.6,407.2 L458.6,408.2 L463.6,409.6 L468.6,411.3 L473.6,413.0 L478.6,414.8 L483.6,416.3 L488.6,417.6 L493.6,418.6 L498.6,419.1 L503.6,418.8 L508.6,418.1 L513.6,416.6 L518.6,415.4 L523.6,415.6 L528.6,416.2 L533.6,418.6 L538.6,420.2 L543.6,420.9 L548.6,421.7 L553.6,422.7 L558.6,423.8 L563.6,425.0 L568.6,426.4 L573.6,427.1 L578.6,427.1 L583.6,427.1 L588.6,427.0 L593.6,426.2 L598.6,425.5 L603.6,425.4 L608.6,425.4 L613.6,425.4 L618.6,425.2 L623.6,425.0 L628.6,424.8 L633.6,425.9 L638.6,427.6 L643.6,429.1 L648.6,430.0 L653.6,430.3 L658.6,430.6 L663.6,431.2 L668.6,432.1 L673.6,432.5 L678.6,432.5 L683.6,432.5 L688.6,432.4 L693.6,431.8 L698.6,431.0 L703.6,430.7 L708.6,430.5 L713.6,430.7 L718.6,431.5 L723.6,432.2 L728.6,433.1 L728.9,433.2" stroke="#5a5a5a" stroke-width="1" fill="none"/>
<rect x="0" y="381.2" width="200.5" height="37.3" fill="#e4f7fb" opacity="0.9"/>
<g fill="none" stroke="#202020" stroke-width="0.9"><circle cx="5.6" cy="386.8" r="2.6"/><path d="M7.6,388.9L11.2,392.8" stroke-width="1.15"/></g>
<text x="16.8" y="396.3" font-size="12.5" fill="#101010" textLength="65" lengthAdjust="spacingAndGlyphs">3-Dec-2021</text>
<path d="M5.6,408.6L10.4,403.8L15.2,408.6L10.4,413.4Z" fill="none" stroke="#101010" stroke-width="1.3"/>
<text x="22.5" y="413" font-size="12.5" fill="#101010" textLength="163.5" lengthAdjust="spacingAndGlyphs">RSI[QNGF22 [10],9,9]= 40.12</text>
<rect x="756" y="381" width="52" height="75" fill="#fff"/>
<rect x="756" y="381" width="52" height="75" fill="url(#g2)"/>
<rect x="756" y="382.5" width="52" height="3.4" fill="#000"/>
<rect x="756" y="451.8" width="52" height="4" fill="#000"/>
<rect x="756" y="381" width="1.6" height="75" fill="#000"/>
<path d="M756,446.5H763M756,439.5H760.5M756,433.5H763M756,426.5H760.5M756,419.5H763M756,413.5H760.5M756,406.5H763M756,399.5H760.5M756,393.5H763" stroke="#000" stroke-width="1" fill="none" shape-rendering="crispEdges"/>
<text x="766.2" y="411.8" font-size="12" fill="#101010">80.00</text>
<text x="766.2" y="431.8" font-size="12" fill="#101010">50.00</text>
<text x="766.2" y="451.7" font-size="12" fill="#101010">20.00</text>
<rect x="756" y="451.8" width="52" height="4" fill="#000"/>
<rect x="759.3" y="425.7" width="45.2" height="14.6" fill="#000"/>
<text x="762.2" y="437.4" font-size="12" fill="#fff">40.12</text>
<rect x="0" y="456" width="808" height="19" fill="#c2c2c2"/>
<rect x="756" y="455.6" width="52" height="1.2" fill="#000"/>
<path d="M3.5,456.5V458.5M8.5,456.5V458.5M13.5,456.5V458.5M18.5,456.5V458.5M23.5,456.5V458.5M28.5,456.5V458.5M33.5,456.5V458.5M38.5,456.5V458.5M43.5,456.5V458.5M48.5,456.5V458.5M53.5,456.5V458.5M58.5,456.5V458.5M63.5,456.5V458.5M68.5,456.5V458.5M73.5,456.5V458.5M78.5,456.5V458.5M83.5,456.5V458.5M88.5,456.5V458.5M93.5,456.5V458.5M98.5,456.5V458.5M103.5,456.5V458.5M108.5,456.5V458.5M113.5,456.5V458.5M118.5,456.5V458.5M123.5,456.5V458.5M128.5,456.5V458.5M133.5,456.5V458.5M138.5,456.5V458.5M143.5,456.5V458.5M148.5,456.5V458.5M153.5,456.5V458.5M158.5,456.5V458.5M163.5,456.5V458.5M168.5,456.5V458.5M173.5,456.5V458.5M178.5,456.5V458.5M183.5,456.5V458.5M188.5,456.5V458.5M193.5,456.5V458.5M198.5,456.5V458.5M203.5,456.5V458.5M208.5,456.5V458.5M213.5,456.5V458.5M218.5,456.5V458.5M223.5,456.5V458.5M228.5,456.5V458.5M233.5,456.5V458.5M238.5,456.5V458.5M243.5,456.5V458.5M248.5,456.5V458.5M253.5,456.5V458.5M258.5,456.5V458.5M263.5,456.5V458.5M268.5,456.5V458.5M273.5,456.5V458.5M278.5,456.5V458.5M283.5,456.5V458.5M288.5,456.5V458.5M293.5,456.5V458.5M298.5,456.5V458.5M303.5,456.5V458.5M308.5,456.5V458.5M313.5,456.5V458.5M318.5,456.5V458.5M323.5,456.5V458.5M328.5,456.5V458.5M333.5,456.5V458.5M338.5,456.5V458.5M343.5,456.5V458.5M348.5,456.5V458.5M353.5,456.5V458.5M358.5,456.5V458.5M363.5,456.5V458.5M368.5,456.5V458.5M373.5,456.5V458.5M378.5,456.5V458.5M383.5,456.5V458.5M388.5,456.5V458.5M393.5,456.5V458.5M398.5,456.5V458.5M403.5,456.5V458.5M408.5,456.5V458.5M413.5,456.5V458.5M418.5,456.5V458.5M423.5,456.5V458.5M428.5,456.5V458.5M433.5,456.5V458.5M438.5,456.5V458.5M443.5,456.5V458.5M448.5,456.5V458.5M453.5,456.5V458.5M458.5,456.5V458.5M463.5,456.5V458.5M468.5,456.5V458.5M473.5,456.5V458.5M478.5,456.5V458.5M483.5,456.5V458.5M488.5,456.5V458.5M493.5,456.5V458.5M498.5,456.5V458.5M503.5,456.5V458.5M508.5,456.5V458.5M513.5,456.5V458.5M518.5,456.5V458.5M523.5,456.5V458.5M528.5,456.5V458.5M533.5,456.5V458.5M538.5,456.5V458.5M543.5,456.5V458.5M548.5,456.5V458.5M553.5,456.5V458.5M558.5,456.5V458.5M563.5,456.5V458.5M568.5,456.5V458.5M573.5,456.5V458.5M578.5,456.5V458.5M583.5,456.5V458.5M588.5,456.5V458.5M593.5,456.5V458.5M598.5,456.5V458.5M603.5,456.5V458.5M608.5,456.5V458.5M613.5,456.5V458.5M618.5,456.5V458.5M623.5,456.5V458.5M628.5,456.5V458.5M633.5,456.5V458.5M638.5,456.5V458.5M643.5,456.5V458.5M648.5,456.5V458.5M653.5,456.5V458.5M658.5,456.5V458.5M663.5,456.5V458.5M668.5,456.5V458.5M673.5,456.5V458.5M678.5,456.5V458.5M683.5,456.5V458.5M688.5,456.5V458.5M693.5,456.5V458.5M698.5,456.5V458.5M703.5,456.5V458.5M708.5,456.5V458.5M713.5,456.5V458.5M718.5,456.5V458.5M723.5,456.5V458.5M728.5,456.5V458.5M733.5,456.5V458.5M738.5,456.5V458.5M743.5,456.5V458.5M748.5,456.5V458.5M753.5,456.5V458.5" stroke="#8a8a8a" stroke-width="1" fill="none" shape-rendering="crispEdges"/>
<text x="1" y="471.5" font-size="12" fill="#101010">May</text>
<rect x="78" y="456" width="1.5" height="19" fill="#000"/>
<text x="81.3" y="471.5" font-size="12" fill="#101010">Jun</text>
<rect x="188" y="456" width="1.5" height="19" fill="#000"/>
<text x="191.3" y="471.5" font-size="12" fill="#101010">Jul</text>
<rect x="293" y="456" width="1.5" height="19" fill="#000"/>
<text x="296.3" y="471.5" font-size="12" fill="#101010">Aug</text>
<rect x="403" y="456" width="1.5" height="19" fill="#000"/>
<text x="406.3" y="471.5" font-size="12" fill="#101010">Sep</text>
<rect x="508" y="456" width="1.5" height="19" fill="#000"/>
<text x="511.3" y="471.5" font-size="12" fill="#101010">Oct</text>
<rect x="613" y="456" width="1.5" height="19" fill="#000"/>
<text x="616.3" y="471.5" font-size="12" fill="#101010">Nov</text>
<rect x="718" y="456" width="1.5" height="19" fill="#000"/>
<text x="721.3" y="471.5" font-size="12" fill="#101010">Dec</text>
<rect x="756" y="456" width="1.6" height="19" fill="#000"/>
<text x="765.5" y="469.3" font-size="11" fill="#101010" stroke="#101010" stroke-width="0.15" style="font-family:'Liberation Mono',monospace">1 Day</text>
</svg></body></html>
